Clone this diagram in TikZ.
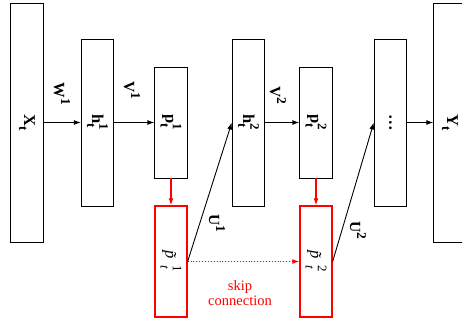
\documentclass[tikz,border=0pt]{standalone}
\usepackage{fontspec}
\setmainfont{Liberation Serif}
\usetikzlibrary{arrows.meta}

\newcommand{\subsup}[3]{#1\raisebox{-0.3em}{\makebox[0pt][l]{\fontsize{13}{13}\selectfont #2}}\raisebox{0.45em}{\fontsize{13}{13}\selectfont #3}}
\newcommand{\supr}[2]{#1\raisebox{0.45em}{\fontsize{13.5}{13.5}\selectfont #2}}
\newcommand{\subr}[2]{#1\raisebox{-0.3em}{\fontsize{13}{13}\selectfont #2}}

\tikzstyle{layer}=[draw,line width=0.9pt,inner sep=0pt]
\tikzstyle{noisy}=[draw=red,line width=1.3pt,inner sep=0pt]
\tikzstyle{layertext}=[rotate=-90,font=\fontsize{16.5}{18}\selectfont\bfseries,inner sep=0pt]
\tikzstyle{weightlabel}=[rotate=-90,font=\fontsize{15.5}{17}\selectfont\bfseries,inner sep=0pt]
\tikzstyle{arrowdecorate}=[-{Latex[length=7pt,width=5pt]},line width=0.9pt]
\tikzstyle{skiplabel}=[text=red,font=\fontsize{14.5}{15.5}\selectfont,align=center]

\begin{document}
\begin{tikzpicture}[x=1pt,y=-1pt]
      \useasboundingbox (0,0) rectangle (462,320);
      % layers
      \foreach \nodename/\x/\y/\h/\lbl in {
        X/27/122.5/239/{\subr{X}{t}},
        h1/97.5/122.5/167/{\subsup{h}{t}{1}},
        p1/171/122.5/111/{\subsup{p}{t}{1}},
        h2/248.5/122.5/167/{\subsup{h}{t}{2}},
        p2/316/122.5/111/{\subsup{p}{t}{2}},
        dots/390.5/122.5/167/{\ldots},
        Y/450/122.5/239/{\subr{Y}{t}}}
      {
        \node[layer, minimum width=32.5pt, minimum height=\h pt] (\nodename) at (\x,\y) {};
        \node[layertext] at (\nodename.center) {\lbl};
      };
      % noisy copies
      \foreach \nodename/\x/\lbl in {pt1/171/1, pt2/316/2}
      {
        \node[noisy, minimum width=32pt, minimum height=111pt] (\nodename) at (\x,261.5) {};
        \node[layertext] at (\nodename.center) {\mdseries\subsup{\textit{\~{p}}}{\textit{t}}{\lbl}};
      };
      % weights
      \foreach \x/\y/\lbl/\idx in {62/94/W/1, 132/90/V/1, 278/95/V/2, 217/223/U/1, 358/230/U/2}
      {
        \node[weightlabel] at (\x,\y) {\supr{\lbl}{\idx}};
      };
      %edges
      \draw[arrowdecorate] (X) -- (h1);
      \draw[arrowdecorate] (h1) -- (p1);
      \draw[arrowdecorate] (h2) -- (p2);
      \draw[arrowdecorate] (dots) -- (Y);
      \draw[arrowdecorate,draw=red,fill=red,line width=1.3pt] (p1) -- (pt1);
      \draw[arrowdecorate,draw=red,fill=red,line width=1.3pt] (p2) -- (pt2);
      \draw[arrowdecorate] (pt1.east) -- (h2.west);
      \draw[arrowdecorate] (pt2.east) -- (dots.west);
      \draw[arrowdecorate,draw=red,fill=red,dotted,line width=1.3pt] (pt1.east) -- (pt2.west);
      \node[skiplabel] (skiptext) at (240,293) {skip\\connection};
    \end{tikzpicture}
\end{document}
